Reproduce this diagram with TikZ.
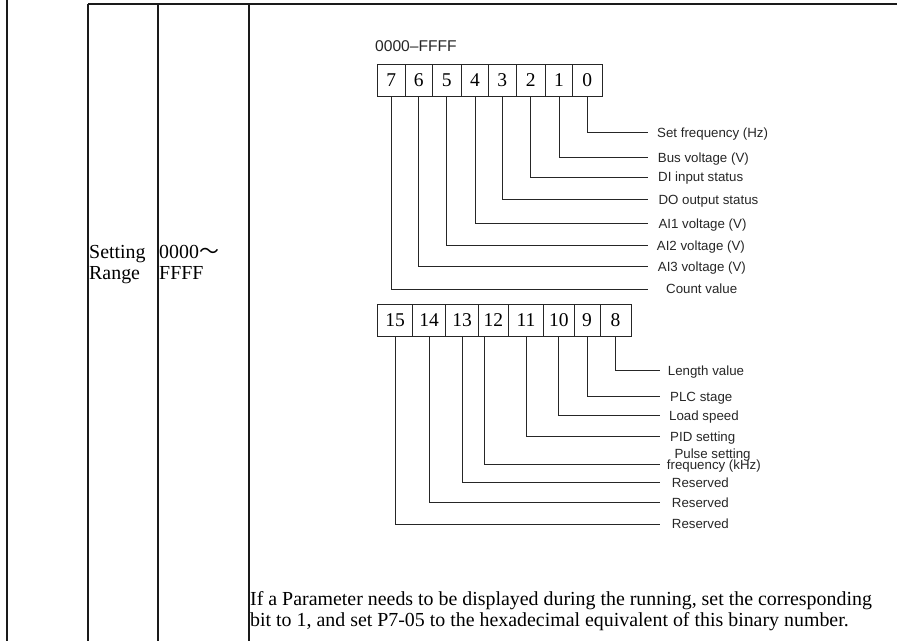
\documentclass[tikz,border=0pt]{standalone}
\usepackage{fontspec}
\setmainfont{Liberation Serif}
\newfontfamily\arial{Liberation Sans}
\newfontfamily\cjk{Noto Sans CJK SC}
\definecolor{tablegray}{HTML}{1A1A1A}
\definecolor{ink}{HTML}{262626}

\begin{document}
\begin{tikzpicture}[x=1pt,y=-1pt,
  bitcell/.style={draw=ink,line width=0.9pt,minimum height=31.3pt,inner sep=0pt,
    font=\fontsize{19.5}{19.5}\selectfont},
  lead/.style={draw=ink,line width=0.9pt},
  lbl/.style={anchor=base west,inner sep=0pt,text=ink,font=\arial\fontsize{13.3}{13.3}\selectfont},
  body/.style={anchor=base west,inner sep=0pt,font=\fontsize{19.9}{21}\selectfont}]
  \useasboundingbox (0,0) rectangle (897,641);
  % table rules
  \begin{scope}[line width=1.3pt,draw=tablegray]
    \draw (7,0)--(7,641);
    \draw (88,4)--(897,4);
    \draw (88,4)--(88,641) (158,4)--(158,641) (249,4)--(249,641);
  \end{scope}
  \node[body] (set) at (89,258) {Setting};
  \node[body] (rng) at (89,279) {Range};
  \node[body] (lo)  at (159,258) {0000{\cjk ～}};
  \node[body] (hi)  at (159,279) {FFFF};
  \node[lbl,font=\arial\fontsize{15.6}{15.6}\selectfont] (hdr) at (375,51.7) {0000–FFFF};
  % low byte
  \foreach \b/\xa/\xb in {7/377.3/405,6/405/432.3,5/432.3/461.3,4/461.3/488.7,
                          3/488.7/516,2/516/545.3,1/545.3/572.7,0/572.7/602}
    \node[bitcell,minimum width={(\xb-\xa)*1pt}] (b\b) at ({(\xa+\xb)/2},80.3) {\b};
  \foreach \b/\y in {0/132.3,1/157.3,2/177,3/199.7,4/223.3,5/245.7,6/266.7,7/289}{
    \coordinate (e\b) at (648.3,\y);
    \draw[lead] (b\b.south) |- (e\b);
  }
  \node[lbl] (l0) at (657,137.1)   {Set frequency (Hz)};
  \node[lbl] (l1) at (657.7,162.1) {Bus voltage (V)};
  \node[lbl] (l2) at (658,181.8)   {DI input status};
  \node[lbl] (l3) at (658.3,204.5) {DO output status};
  \node[lbl] (l4) at (658.3,228.1) {AI1 voltage (V)};
  \node[lbl] (l5) at (656.7,250.5) {AI2 voltage (V)};
  \node[lbl] (l6) at (657.7,271.5) {AI3 voltage (V)};
  \node[lbl] (l7) at (666,293.8)   {Count value};
  % high byte
  \foreach \b/\xa/\xb in {15/377.3/412.7,14/412.7/445.7,13/445.7/478.3,12/478.3/508.3,
                          11/508.3/543.7,10/543.7/574,9/574/600,8/600/631}
    \node[bitcell,minimum width={(\xb-\xa)*1pt}] (b\b) at ({(\xa+\xb)/2},320.5) {\b};
  \foreach \b/\y in {8/370.7,9/396.7,10/415.7,11/436.7,13/482.3,14/502.3,15/524}{
    \coordinate (e\b) at (660,\y);
    \draw[lead] (b\b.south) |- (e\b);
  }
  \coordinate (e12) at (660,464);
  \draw[lead] ([xshift=-9.3pt]b12.south) |- (e12);
  \node[lbl] (l8)  at (667.7,375.5) {Length value};
  \node[lbl] (l9)  at (670,401.5)   {PLC stage};
  \node[lbl] (l10) at (669,420.5)   {Load speed};
  \node[lbl] (l11) at (670,441.5)   {PID setting};
  \node[lbl] (l12a) at (674.3,458.3) {Pulse setting};
  \node[lbl] (l12b) at (666.7,469.6) {frequency (kHz)};
  \node[lbl] (l13) at (671.7,487.1) {Reserved};
  \node[lbl] (l14) at (671.7,507.1) {Reserved};
  \node[lbl] (l15) at (671.7,528.8) {Reserved};
  % note
  \node[body] (t1) at (250,605) {If a Parameter needs to be displayed during the running, set the corresponding};
  \node[body] (t2) at (250,626) {bit to 1, and set P7-05 to the hexadecimal equivalent of this binary number.};
\end{tikzpicture}
\end{document}
